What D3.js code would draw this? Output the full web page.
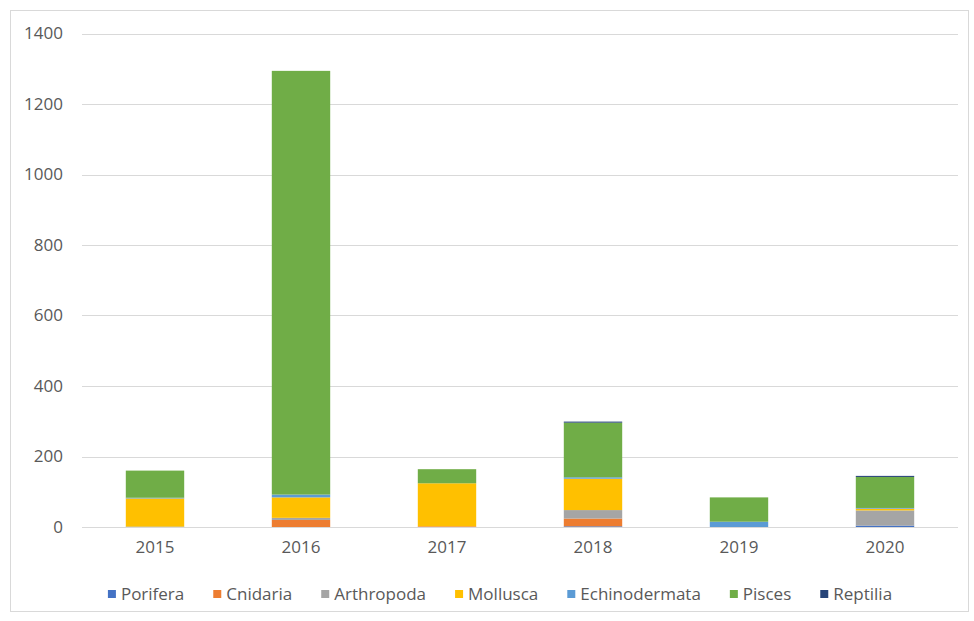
<!DOCTYPE html>
<html>
<head>
<meta charset="utf-8">
<script src="https://cdn.jsdelivr.net/npm/d3@7/dist/d3.min.js"></script>
<style>
  html, body { margin: 0; padding: 0; background: #ffffff; }
  svg { display: block; }
  text { font-family: "Open Sans", sans-serif; fill: #595959; }
</style>
</head>
<body>
<svg id="chart" width="974" height="621"></svg>
<script>
// Years on the category axis
const years = ["2015", "2016", "2017", "2018", "2019", "2020"];

// Taxa, stacked bottom to top, with their fill colours
const taxa = ["Porifera", "Cnidaria", "Arthropoda", "Mollusca", "Echinodermata", "Pisces", "Reptilia"];
const taxaColors = ["#4472C4", "#ED7D31", "#A5A5A5", "#FFC000", "#5B9BD5", "#70AD47", "#264478"];

// Counts per taxon, one value per year
const porifera      = [1, 0, 0, 2, 0, 4];
const cnidaria      = [0, 20, 2, 22, 0, 0];
const arthropoda    = [0, 6, 0, 24, 0, 43];
const mollusca      = [80, 58, 122, 89, 0, 5];
const echinodermata = [2, 8, 0, 4, 15, 2];
const pisces        = [77, 1202, 40, 155, 69, 88];
const reptilia      = [0, 0, 0, 3, 0, 3];

// Value-axis ticks
const yTicks = [0, 200, 400, 600, 800, 1000, 1200, 1400];

const series = [porifera, cnidaria, arthropoda, mollusca, echinodermata, pisces, reptilia];
const rows = years.map((y, i) => {
  const r = { year: y };
  taxa.forEach((t, k) => { r[t] = series[k][i]; });
  return r;
});

const svg = d3.select("#chart");

// Chart frame
svg.append("rect")
  .attr("x", 10.5).attr("y", 10.5)
  .attr("width", 958).attr("height", 601)
  .attr("fill", "#ffffff").attr("stroke", "#d9d9d9");

const plot = { left: 82, right: 958, top: 33.5, bottom: 527 };

const x = d3.scaleBand().domain(years).range([plot.left, plot.right]).paddingInner(0.6).paddingOuter(0.3);
const y = d3.scaleLinear().domain([0, 1400]).range([plot.bottom, plot.top]);

// Horizontal gridlines
svg.append("g").selectAll("line").data(yTicks.filter(d => d > 0)).join("line")
  .attr("x1", plot.left).attr("x2", plot.right)
  .attr("y1", d => Math.round(y(d)) + 0.5).attr("y2", d => Math.round(y(d)) + 0.5)
  .attr("stroke", "#d9d9d9").attr("stroke-width", 1);

// Stacked bars
const stack = d3.stack().keys(taxa)(rows);
const color = d3.scaleOrdinal().domain(taxa).range(taxaColors);

svg.append("g").selectAll("g").data(stack).join("g")
  .attr("fill", d => color(d.key))
  .selectAll("rect").data(d => d).join("rect")
  .attr("x", d => x(d.data.year))
  .attr("width", x.bandwidth())
  .attr("y", d => y(d[1]))
  .attr("height", d => y(d[0]) - y(d[1]));

// Value axis labels
const yAxis = d3.axisLeft(y).tickValues(yTicks).tickSize(0).tickPadding(0).tickFormat(d3.format("d"));
const gy = svg.append("g").attr("transform", `translate(${plot.left - 19},0)`).call(yAxis);
gy.select(".domain").remove();
gy.selectAll("text").style("font-size", "17px").attr("fill", "#595959");

// Category axis
const xAxis = d3.axisBottom(x).tickSize(0).tickPadding(14);
const gx = svg.append("g").attr("transform", `translate(0,${plot.bottom})`).call(xAxis);
gx.select(".domain").attr("d", `M${plot.left},0.5H${plot.right}`).attr("stroke", "#d9d9d9");
gx.selectAll("text").style("font-size", "17px").attr("fill", "#595959");

// Legend, centred under the plot
const legend = svg.append("g").attr("transform", "translate(0,594)");
const items = legend.selectAll("g").data(taxa).join("g");
items.append("rect").attr("width", 8).attr("height", 8).attr("y", -4)
  .attr("fill", d => color(d));
items.append("text").attr("x", 13).attr("dy", "0.35em")
  .style("font-size", "17px").attr("fill", "#404040").text(d => d);

const gap = 29;
const widths = items.nodes().map(n => n.getBBox().width);
const total = d3.sum(widths) + gap * (widths.length - 1);
let cursor = 500 - total / 2;
items.attr("transform", (d, i) => {
  const t = `translate(${cursor},0)`;
  cursor += widths[i] + gap;
  return t;
});
</script>
</body>
</html>
